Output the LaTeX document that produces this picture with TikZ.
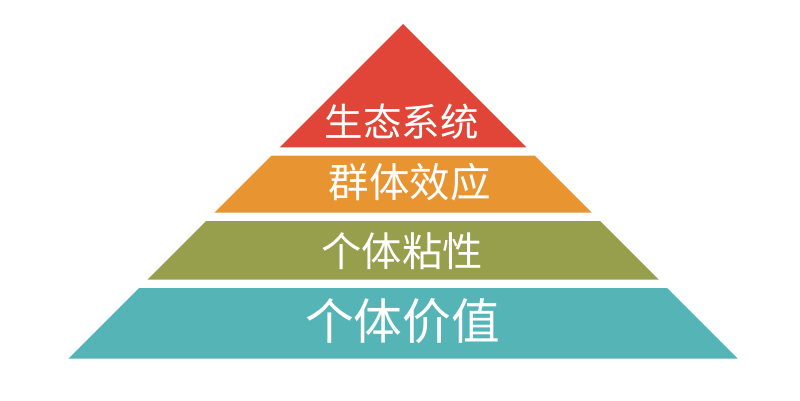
\documentclass[tikz,border=0pt]{standalone}
\usepackage{fontspec}
\newfontfamily\cjk{Noto Sans CJK SC}
\definecolor{cRed}{HTML}{E04537}
\definecolor{cOrange}{HTML}{E89531}
\definecolor{cGreen}{HTML}{979F4D}
\definecolor{cTeal}{HTML}{55B5B6}
\begin{document}
\begin{tikzpicture}[x=1pt,y=-1pt,
  layer/.style={fill=#1,draw=none},
  lbl/.style={text=white,anchor=base,inner sep=0pt}]
\useasboundingbox (0,0) rectangle (800,400);
% apex (403,24), 45 degree sides
\coordinate (apex) at (403,24);
\fill[cRed] (apex) -- (403-123.3,147.3) -- (403+123.3,147.3) -- cycle;
\fill[cOrange] (403-131.7,155.7) -- (403+131.7,155.7) -- (403+188.7,212.7) -- (403-188.7,212.7) -- cycle;
\fill[cGreen] (403-197,221) -- (403+197,221) -- (403+255.7,279.7) -- (403-255.7,279.7) -- cycle;
\fill[cTeal] (403-264,288) -- (403+264,288) -- (403+334.7,358.7) -- (403-334.7,358.7) -- cycle;
\node[lbl,font=\cjk\fontsize{38.5}{40}\selectfont] (t1) at (401.5,136.6) {生态系统};
\node[lbl,font=\cjk\fontsize{40.5}{42}\selectfont] (t2) at (409.5,197.9) {群体效应};
\node[lbl,font=\cjk\fontsize{40.3}{42}\selectfont] (t3) at (402,266.5) {个体粘性};
\node[lbl,font=\cjk\fontsize{48.7}{50}\selectfont] (t4) at (402.5,339.6) {个体价值};
\end{tikzpicture}
\end{document}
